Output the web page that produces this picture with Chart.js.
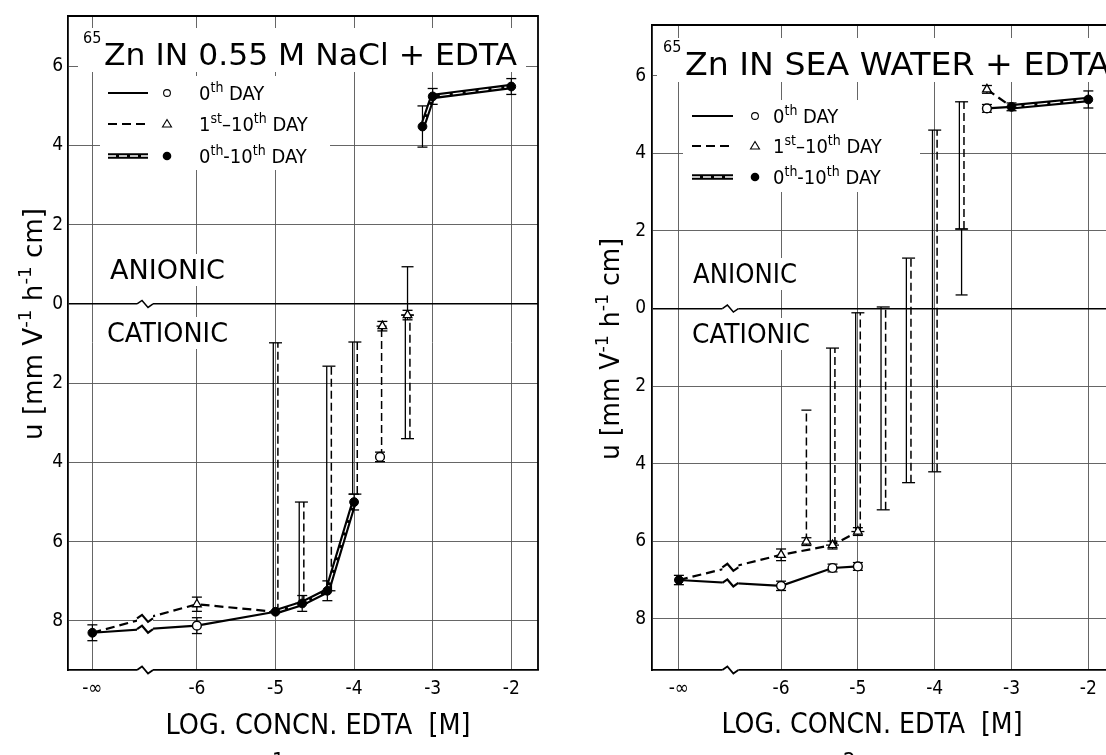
<!DOCTYPE html>
<html>
<head>
<meta charset="utf-8">
<script src="https://cdn.jsdelivr.net/npm/chart.js@4.4.1/dist/chart.umd.min.js"></script>
<style>
  body { margin: 0; background: #fff; }
  #wrap { position: relative; width: 1106px; height: 755px; overflow: hidden; }
  .panel { position: absolute; top: 0; width: 553px; height: 755px; }
</style>
</head>
<body>
<div id="wrap">
  <div class="panel" style="left:0"><canvas id="nacl" width="553" height="755"></canvas></div>
  <div class="panel" style="left:553px"><canvas id="sea" width="553" height="755"></canvas></div>
</div>
<script>
// log concn. axis is broken: "-inf" sits 1.33 decades left of -6
const NEG_INF = -7.33;
const BREAK_X = -6.66;

const xTicks = [NEG_INF, -6, -5, -4, -3, -2];
const yTicks = [-8, -6, -4, -2, 0, 2, 4, 6];   // negative = cationic

// ---- 65Zn in 0.55 M NaCl + EDTA ----
const naclDay0X = [NEG_INF, -6, -5];
const naclDay0Y = [-8.30, -8.12, -7.77];
const naclDay1X = [NEG_INF, -6, -5];
const naclDay1Y = [-8.30, -7.58, -7.77];
const naclBothX = [-5, -4.66, -4.34, -4.0];
const naclBothY = [-7.77, -7.56, -7.24, -5.0];
const naclBothHiX = [-3.13, -3.0, -2.0];
const naclBothHiY = [4.48, 5.24, 5.49];

const naclDotX = [NEG_INF, -5, -4.66, -4.34, -4.0, -3.13, -3.0, -2.0];
const naclDotY = [-8.30, -7.77, -7.56, -7.24, -5.0, 4.48, 5.24, 5.49];
const naclDotErr = [0.2, 0, 0.2, 0.25, 0.2, 0.52, 0.2, 0.2];
const naclOpenX = [-6, -3.67];
const naclOpenY = [-8.12, -3.86];
const naclOpenErr = [0.2, 0.12];
const naclTriX = [-6, -3.64, -3.32];
const naclTriY = [-7.58, -0.56, -0.28];
const naclTriErr = [0.18, 0.12, 0.12];

const naclRangeDoubleX = [-5, -4.67, -4.32, -3.99, -3.32];
const naclRangeDoubleLo = [-7.77, -7.56, -7.24, -4.8, -3.4];
const naclRangeDoubleHi = [-0.98, -5.0, -1.57, -0.96, -0.28];
const naclRangeDashedX = [-3.65];
const naclRangeDashedLo = [-3.86];
const naclRangeDashedHi = [-0.56];
const naclRangeSolidX = [-3.32];
const naclRangeSolidLo = [-0.28];
const naclRangeSolidHi = [0.94];

// ---- 65Zn in sea water + EDTA ----
const seaDay0X = [NEG_INF, -6, -5.33, -5.0];
const seaDay0Y = [-7.0, -7.15, -6.69, -6.65];
const seaDay1X = [NEG_INF, -6, -5.33, -5.0];
const seaDay1Y = [-7.0, -6.35, -6.10, -5.75];
const seaHiDay0X = [-3.32, -3.0];
const seaHiDay0Y = [5.16, 5.20];
const seaHiDay1X = [-3.32, -3.0];
const seaHiDay1Y = [5.65, 5.20];
const seaBothX = [-3.0, -2.0];
const seaBothY = [5.20, 5.39];

const seaDotX = [NEG_INF, -3.0, -2.0];
const seaDotY = [-7.0, 5.20, 5.39];
const seaDotErr = [0.12, 0.1, 0.22];
const seaOpenX = [-6, -5.33, -5.0, -3.32];
const seaOpenY = [-7.15, -6.69, -6.65, 5.16];
const seaOpenErr = [0.12, 0.1, 0.1, 0.1];
const seaTriX = [-6, -5.67, -5.33, -5.0, -3.32];
const seaTriY = [-6.35, -6.01, -6.10, -5.75, 5.65];
const seaTriErr = [0.15, 0.1, 0.1, 0.1, 0.1];

const seaRangeDoubleX = [-5.33, -5.0, -4.67, -4.34, -4.0, -3.65];
const seaRangeDoubleLo = [-6.10, -5.75, -5.19, -4.49, -4.21, 2.05];
const seaRangeDoubleHi = [-1.02, -0.11, 0.04, 1.30, 4.60, 5.33];
const seaRangeDashedX = [-5.67];
const seaRangeDashedLo = [-6.01];
const seaRangeDashedHi = [-2.62];
const seaRangeSolidX = [-3.65];
const seaRangeSolidLo = [0.35];
const seaRangeSolidHi = [2.05];

const FONT = '"DejaVu Sans Condensed", "DejaVu Sans", sans-serif';
const font = s => s + 'px ' + FONT;
const pts = (xs, ys) => xs.map((x, i) => ({ x: x, y: ys[i] }));

function richWidth(ctx, parts, size) {
  let w = 0;
  parts.forEach(p => { ctx.font = font(p[1] ? size * 0.7 : size); w += ctx.measureText(p[0]).width; });
  return w;
}
function drawRich(ctx, parts, x, y, size, width) {
  ctx.save();
  ctx.fillStyle = '#000';
  ctx.textAlign = 'left';
  ctx.textBaseline = 'alphabetic';
  ctx.translate(x, y);
  if (width) ctx.scale(width / richWidth(ctx, parts, size), 1);
  let cx = 0;
  parts.forEach(p => {
    ctx.font = font(p[1] ? size * 0.7 : size);
    ctx.fillText(p[0], cx, p[1] ? -size * 0.42 : 0);
    cx += ctx.measureText(p[0]).width;
  });
  ctx.restore();
}

function zigzag(ctx, x, y, lw) {
  ctx.save();
  ctx.fillStyle = '#fff';
  ctx.fillRect(x - 8, y - 4, 16, 8);
  ctx.strokeStyle = '#000';
  ctx.lineWidth = lw;
  ctx.setLineDash([]);
  ctx.beginPath();
  ctx.moveTo(x - 8, y);
  ctx.lineTo(x - 3, y - 3.5);
  ctx.lineTo(x + 3, y + 3.5);
  ctx.lineTo(x + 8, y);
  ctx.stroke();
  ctx.restore();
}

function vline(ctx, x, y1, y2, dash, lw) {
  ctx.setLineDash(dash || []);
  ctx.lineWidth = lw;
  ctx.beginPath(); ctx.moveTo(x, y1); ctx.lineTo(x, y2); ctx.stroke();
}
function cap(ctx, x, y, half) {
  ctx.setLineDash([]);
  ctx.lineWidth = 1.3;
  ctx.beginPath(); ctx.moveTo(x - half, y); ctx.lineTo(x + half, y); ctx.stroke();
}

const legendRows = [
  { line: 'solid', mark: 'open', parts: [['0'], ['th', 1], [' DAY']] },
  { line: 'dashed', mark: 'tri', parts: [['1'], ['st', 1], ['\u201310'], ['th', 1], [' DAY']] },
  { line: 'double', mark: 'dot', parts: [['0'], ['th', 1], ['-10'], ['th', 1], [' DAY']] }
];

const panelPlugin = {
  id: 'panel',
  beforeDatasetsDraw(chart) {
    const L = chart.options.plugins.panel;
    const ctx = chart.ctx;
    const xs = chart.scales.x, ys = chart.scales.y;
    ctx.save();
    // white areas behind the printed texts
    ctx.fillStyle = '#fff';
    L.whiteBoxes.forEach(b => ctx.fillRect(b[0], b[1], b[2], b[3]));

    // title
    drawRich(ctx, [['65']], L.title.supX, L.title.supY, 16);
    drawRich(ctx, [[L.title.text]], L.title.x, L.title.y, L.title.size, L.title.w);

    // legend
    legendRows.forEach((r, i) => {
      const y = L.legend.rows[i];
      ctx.save();
      ctx.strokeStyle = '#000';
      ctx.beginPath(); ctx.moveTo(L.legend.x0, y); ctx.lineTo(L.legend.x1, y);
      if (r.line === 'solid') { ctx.lineWidth = 2.2; ctx.stroke(); }
      if (r.line === 'dashed') { ctx.lineWidth = 2.2; ctx.setLineDash([9, 5]); ctx.stroke(); }
      if (r.line === 'double') {
        ctx.lineWidth = 5.5; ctx.stroke();
        ctx.strokeStyle = '#fff'; ctx.lineWidth = 1.3; ctx.setLineDash([8, 3]); ctx.stroke();
      }
      ctx.setLineDash([]);
      ctx.strokeStyle = '#000'; ctx.fillStyle = '#000'; ctx.lineWidth = 1.1;
      const mx = L.legend.mx;
      if (r.mark === 'open') { ctx.beginPath(); ctx.arc(mx, y, 3.4, 0, 2 * Math.PI); ctx.stroke(); }
      if (r.mark === 'dot') { ctx.beginPath(); ctx.arc(mx, y, 4.3, 0, 2 * Math.PI); ctx.fill(); }
      if (r.mark === 'tri') {
        ctx.beginPath(); ctx.moveTo(mx, y - 4.5); ctx.lineTo(mx + 4.5, y + 3); ctx.lineTo(mx - 4.5, y + 3);
        ctx.closePath(); ctx.stroke();
      }
      ctx.restore();
      drawRich(ctx, r.parts, L.legend.tx, y + 7, 20);
    });

    // ANIONIC / CATIONIC
    L.words.forEach(w => drawRich(ctx, [[w.text]], w.x, w.y, 27, w.w));

    // range bars (mobility spread of the 1st-10th day)
    ctx.strokeStyle = '#000';
    const D = L.data;
    D.rangeDoubleX.forEach((x, i) => {
      const px = xs.getPixelForValue(x);
      const p1 = ys.getPixelForValue(D.rangeDoubleLo[i]), p2 = ys.getPixelForValue(D.rangeDoubleHi[i]);
      vline(ctx, px - 2.2, p1, p2, [], 1.3);
      vline(ctx, px + 2.4, p1, p2, [8, 4], 1.5);
      cap(ctx, px, p1, 6.5); cap(ctx, px, p2, 6.5);
    });
    D.rangeDashedX.forEach((x, i) => {
      const px = xs.getPixelForValue(x);
      const p1 = ys.getPixelForValue(D.rangeDashedLo[i]), p2 = ys.getPixelForValue(D.rangeDashedHi[i]);
      vline(ctx, px, p1, p2, [8, 4], 1.5);
      cap(ctx, px, p2, 5);
    });
    D.rangeSolidX.forEach((x, i) => {
      const px = xs.getPixelForValue(x);
      const p1 = ys.getPixelForValue(D.rangeSolidLo[i]), p2 = ys.getPixelForValue(D.rangeSolidHi[i]);
      vline(ctx, px, p1, p2, [], 1.3);
      cap(ctx, px, p1, 6); cap(ctx, px, p2, 6);
    });
    // small error bars on the points
    [[D.dotX, D.dotY, D.dotErr], [D.openX, D.openY, D.openErr], [D.triX, D.triY, D.triErr]].forEach(set => {
      set[0].forEach((x, i) => {
        const e = set[2][i];
        if (!e) return;
        const px = xs.getPixelForValue(x);
        const p1 = ys.getPixelForValue(set[1][i] - e), p2 = ys.getPixelForValue(set[1][i] + e);
        vline(ctx, px, p1, p2, [], 1.2);
        cap(ctx, px, p1, 5); cap(ctx, px, p2, 5);
      });
    });
    ctx.restore();
  },
  afterDatasetsDraw(chart) {
    const ctx = chart.ctx;
    const bx = chart.scales.x.getPixelForValue(BREAK_X);
    chart.data.datasets.forEach((ds, i) => {
      if (!ds.brk) return;
      const el = chart.getDatasetMeta(i).data;
      for (let k = 0; k < el.length - 1; k++) {
        const a = el[k], b = el[k + 1];
        if (a.x <= bx && b.x >= bx) zigzag(ctx, bx, a.y + (bx - a.x) / (b.x - a.x) * (b.y - a.y), 2.2);
      }
    });
  },
  afterDraw(chart) {
    const L = chart.options.plugins.panel;
    const ctx = chart.ctx;
    const a = chart.chartArea;
    ctx.save();
    ctx.strokeStyle = '#000';
    ctx.lineWidth = 1.8;
    ctx.beginPath();
    ctx.moveTo(a.left, a.top); ctx.lineTo(a.right, a.top);
    if (L.rightBorder) ctx.lineTo(a.right, a.bottom);
    ctx.stroke();
    const bx = chart.scales.x.getPixelForValue(BREAK_X);
    zigzag(ctx, bx, chart.scales.y.getPixelForValue(0), 1.5);
    zigzag(ctx, bx, a.bottom, 1.8);

    // axis titles
    const yParts = [['u [mm V'], ['-1', 1], [' h'], ['-1', 1], [' cm]']];
    ctx.save();
    ctx.translate(L.yTitle.x, L.yTitle.y);
    ctx.rotate(-Math.PI / 2);
    drawRich(ctx, yParts, -L.yTitle.len / 2, 9, 26, L.yTitle.len);
    ctx.restore();
    drawRich(ctx, [['LOG. CONCN. EDTA  [M]']], L.xTitle.x - L.xTitle.w / 2, L.xTitle.y + 10, 28, L.xTitle.w);
    drawRich(ctx, [[L.caption]], L.captionX, 768, 22);
    ctx.restore();
  }
};

function makePanel(id, D, L) {
  const line = (xs, ys, extra) => Object.assign({
    data: pts(xs, ys), showLine: true, pointRadius: 0, borderColor: '#000',
    borderWidth: 2.2, fill: false, order: 3
  }, extra);
  const datasets = [
    { data: pts(D.dotX, D.dotY), pointStyle: 'circle', pointRadius: 4.4, backgroundColor: '#000',
      borderColor: '#000', borderWidth: 1, showLine: false, order: 0 },
    { data: pts(D.openX, D.openY), pointStyle: 'circle', pointRadius: 4.4, backgroundColor: '#fff',
      borderColor: '#000', borderWidth: 1.4, showLine: false, order: 0 },
    { data: pts(D.triX, D.triY), pointStyle: 'triangle', pointRadius: 5, backgroundColor: '#fff',
      borderColor: '#000', borderWidth: 1.3, showLine: false, order: 0 }
  ];
  D.day0.forEach(s => datasets.push(line(s[0], s[1], { brk: true })));
  D.day1.forEach(s => datasets.push(line(s[0], s[1], { brk: true, borderDash: [9, 5] })));
  D.both.forEach(s => {
    datasets.push(line(s[0], s[1], { borderWidth: 5.5 }));
    datasets.push(line(s[0], s[1], { borderWidth: 1.2, borderColor: '#fff', borderDash: [10, 3], order: 2 }));
  });

  new Chart(document.getElementById(id), {
    type: 'scatter',
    data: { datasets: datasets },
    plugins: [panelPlugin],
    options: {
      responsive: false,
      animation: false,
      events: [],
      layout: { autoPadding: false, padding: { left: 0, top: L.top, right: L.right, bottom: 0 } },
      plugins: {
        legend: { display: false },
        tooltip: { enabled: false },
        panel: Object.assign({ data: D }, L)
      },
      scales: {
        x: {
          type: 'linear', min: L.xMin, max: L.xMax,
          afterBuildTicks: s => { s.ticks = xTicks.map(v => ({ value: v })); },
          afterFit: s => { s.height = L.xHeight; s.paddingLeft = 0; s.paddingRight = 0; },
          ticks: {
            autoSkip: false, maxRotation: 0, padding: 8, color: '#000',
            font: { family: FONT, size: 19 },
            callback: v => v === NEG_INF ? '-\u221E' : '-' + Math.abs(v)
          },
          grid: { color: '#555', lineWidth: 0.9, drawTicks: false },
          border: { display: true, color: '#000', width: 1.8 }
        },
        y: {
          type: 'linear', min: L.yMin, max: L.yMax,
          afterBuildTicks: s => { s.ticks = yTicks.map(v => ({ value: v })); },
          afterFit: s => { s.width = L.yWidth; s.paddingTop = 0; s.paddingBottom = 0; },
          ticks: {
            padding: L.yPad, color: '#000', font: { family: FONT, size: 19 },
            callback: v => String(Math.abs(v))
          },
          grid: {
            drawTicks: false,
            color: c => (c.tick && c.tick.value === 0) ? '#000' : '#555',
            lineWidth: c => (c.tick && c.tick.value === 0) ? 1.6 : 0.9
          },
          border: { display: true, color: '#000', width: 1.8 }
        }
      }
    }
  });
}

makePanel('nacl', {
  day0: [[naclDay0X, naclDay0Y]],
  day1: [[naclDay1X, naclDay1Y]],
  both: [[naclBothX, naclBothY], [naclBothHiX, naclBothHiY]],
  dotX: naclDotX, dotY: naclDotY, dotErr: naclDotErr,
  openX: naclOpenX, openY: naclOpenY, openErr: naclOpenErr,
  triX: naclTriX, triY: naclTriY, triErr: naclTriErr,
  rangeDoubleX: naclRangeDoubleX, rangeDoubleLo: naclRangeDoubleLo, rangeDoubleHi: naclRangeDoubleHi,
  rangeDashedX: naclRangeDashedX, rangeDashedLo: naclRangeDashedLo, rangeDashedHi: naclRangeDashedHi,
  rangeSolidX: naclRangeSolidX, rangeSolidLo: naclRangeSolidLo, rangeSolidHi: naclRangeSolidHi
}, {
  top: 16, right: 15, yWidth: 68, xHeight: 85, yPad: 5,
  xMin: -7.64, xMax: -1.66, yMin: -9.24, yMax: 7.27,
  rightBorder: true,
  whiteBoxes: [[78, 28, 448, 44], [100, 76, 230, 94], [104, 254, 128, 32], [101, 317, 134, 32]],
  title: { supX: 83, supY: 43, text: 'Zn IN 0.55 M NaCl + EDTA', x: 104, y: 65, size: 30, w: 413 },
  legend: { x0: 108, x1: 148, mx: 167, tx: 199, rows: [93, 124, 156] },
  words: [{ text: 'ANIONIC', x: 110, y: 279, w: 115 }, { text: 'CATIONIC', x: 107, y: 342, w: 121 }],
  yTitle: { x: 33, y: 324, len: 232 },
  xTitle: { x: 318, y: 724, w: 305 },
  caption: '1', captionX: 272
});

makePanel('sea', {
  day0: [[seaDay0X, seaDay0Y], [seaHiDay0X, seaHiDay0Y]],
  day1: [[seaDay1X, seaDay1Y], [seaHiDay1X, seaHiDay1Y]],
  both: [[seaBothX, seaBothY]],
  dotX: seaDotX, dotY: seaDotY, dotErr: seaDotErr,
  openX: seaOpenX, openY: seaOpenY, openErr: seaOpenErr,
  triX: seaTriX, triY: seaTriY, triErr: seaTriErr,
  rangeDoubleX: seaRangeDoubleX, rangeDoubleLo: seaRangeDoubleLo, rangeDoubleHi: seaRangeDoubleHi,
  rangeDashedX: seaRangeDashedX, rangeDashedLo: seaRangeDashedLo, rangeDashedHi: seaRangeDashedHi,
  rangeSolidX: seaRangeSolidX, rangeSolidLo: seaRangeSolidLo, rangeSolidHi: seaRangeSolidHi
}, {
  top: 25, right: 0, yWidth: 99, xHeight: 85, yPad: 6,
  xMin: -7.68, xMax: -1.77, yMin: -9.32, yMax: 7.31,
  rightBorder: false,
  whiteBoxes: [[104, 38, 449, 44], [130, 100, 237, 92], [134, 258, 116, 32], [134, 318, 128, 32]],
  title: { supX: 110, supY: 52, text: 'Zn IN SEA WATER + EDTA', x: 132, y: 75, size: 32, w: 425 },
  legend: { x0: 139, x1: 180, mx: 202, tx: 220, rows: [116, 146, 177] },
  words: [{ text: 'ANIONIC', x: 140, y: 283, w: 104 }, { text: 'CATIONIC', x: 139, y: 343, w: 118 }],
  yTitle: { x: 57, y: 349, len: 222 },
  xTitle: { x: 319, y: 723, w: 301 },
  caption: '2', captionX: 290
});
</script>
</body>
</html>
